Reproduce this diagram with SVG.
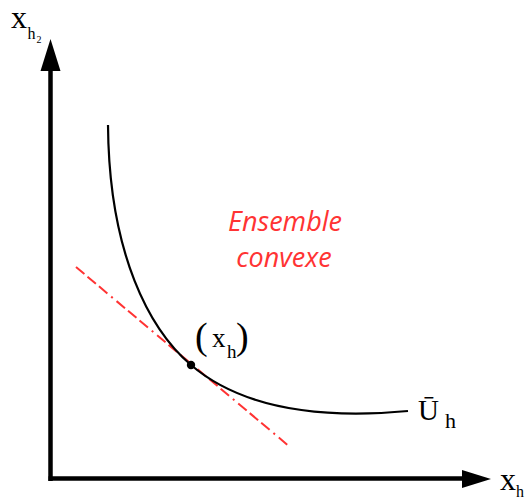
<svg xmlns="http://www.w3.org/2000/svg" width="531" height="499" viewBox="0 0 531 499">
  <style>
    .axis { stroke: #000; stroke-width: 4.5; fill: none; }
    .head { fill: #000; stroke: none; }
    .curve { stroke: #000; stroke-width: 2.2; fill: none; }
    .tangent { stroke: #ff3333; stroke-width: 2; fill: none; stroke-dasharray: 11 4 11 4 11 5 2 5; }
    .math { font-family: "Liberation Serif", "Times New Roman", serif; fill: #000; }
    .note { font-family: "Open Sans", "Liberation Sans", sans-serif; font-style: italic; font-size: 27px; fill: #ff3333; text-anchor: middle; }
  </style>
  <rect width="531" height="499" fill="#fff"/>

  <g id="connectors">
    <line class="axis" x1="50.5" y1="70" x2="50.5" y2="481"/>
    <polygon class="head" points="50.5,39 40.5,71 60.5,71"/>
    <line class="axis" x1="48.5" y1="478.5" x2="463" y2="478.5"/>
    <polygon class="head" points="491,479 462,470 462,488"/>
    <line class="tangent" x1="76" y1="267" x2="290" y2="447"/>
  </g>

  <g id="indifference-curve">
    <path class="curve" d="M108,125 C109,255 150,330 191,365 C232,400 300,421 408,411"/>
  </g>

  <g id="point-xh">
    <circle cx="191" cy="365" r="4.2" fill="#000"/>
    <text class="math" x="195" y="349" font-size="38">(</text>
    <text class="math" x="212" y="347" font-size="27">x</text>
    <text class="math" x="227" y="358" font-size="19">h</text>
    <text class="math" x="236" y="349" font-size="38">)</text>
  </g>

  <g id="label-convex-set">
    <text class="note" x="285" y="230.5">Ensemble</text>
    <text class="note" x="284" y="267">convexe</text>
  </g>

  <g id="label-U">
    <text class="math" x="418" y="420" font-size="29">Ū</text>
    <text class="math" x="445" y="428" font-size="22">h</text>
  </g>

  <g id="label-y-axis">
    <text class="math" x="11" y="28" font-size="32">x</text>
    <text class="math" x="27.5" y="39" font-size="16">h</text>
    <text class="math" x="36.5" y="43" font-size="10">2</text>
  </g>

  <g id="label-x-axis">
    <text class="math" x="500" y="490" font-size="32">x</text>
    <text class="math" x="516" y="497" font-size="16">h</text>
  </g>
</svg>
